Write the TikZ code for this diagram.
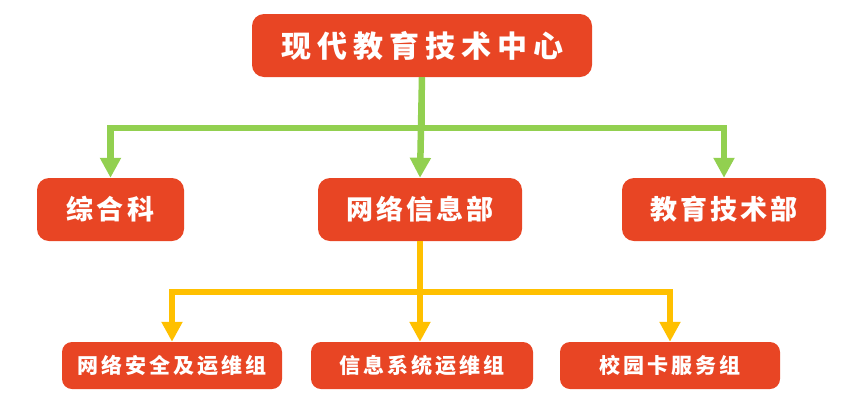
\documentclass[tikz,border=0pt]{standalone}
\usepackage{fontspec}
\usetikzlibrary{arrows.meta}
\newfontfamily\cjkA[LetterSpace=20]{Noto Sans CJK SC}
\newfontfamily\cjkB[LetterSpace=12]{Noto Sans CJK SC}
\newfontfamily\cjkC[LetterSpace=14]{Noto Sans CJK SC}
\definecolor{boxred}{HTML}{E84524}
\definecolor{lgreen}{HTML}{92D050}
\definecolor{lyellow}{HTML}{FFC000}
\begin{document}
\begin{tikzpicture}[x=1pt,y=-1pt,
  box/.style={fill=boxred,rounded corners=12pt,text=white,inner sep=0pt,align=center},
  lvA/.style={box,minimum width=340pt,minimum height=63pt,font=\cjkA\bfseries\fontsize{30}{30}\selectfont},
  lvB/.style={box,minimum width=204pt,minimum height=63pt,font=\cjkB\bfseries\fontsize{27}{27}\selectfont},
  lvC/.style={box,minimum width=220pt,minimum height=47pt,rounded corners=10pt,font=\cjkC\bfseries\fontsize{21}{21}\selectfont},
  garrow/.style={draw=lgreen,line width=6.5pt,-{Triangle[width=20pt,length=20pt]}},
  yarrow/.style={draw=lyellow,line width=6.5pt,-{Triangle[width=20pt,length=20pt]}}]
\useasboundingbox (0,0) rectangle (860,416);
\node[lvA] (top) at (422,45.5) {现代教育技术中心};
\node[lvB,minimum width=147pt] (zh) at (110.5,209.5) {综合科};
\node[lvB] (wl) at (420,209.5) {网络信息部};
\node[lvB] (jy) at (724,209.5) {教育技术部};
\node[lvC] (b1) at (172,365.5) {网络安全及运维组};
\node[lvC,minimum width=222pt] (b2) at (422,365.5) {信息系统运维组};
\node[lvC] (b3) at (670,365.5) {校园卡服务组};
\coordinate (gj) at (422,128);
\coordinate (yj) at (420,292);
\draw[garrow] (top.south) -- (gj) -| (zh.north);
\draw[garrow] (top.south) -- (gj) -| (jy.north);
\draw[garrow] (top.south) -- (wl.north);
\draw[yarrow] (wl.south) -- (yj) -| (b1.north);
\draw[yarrow] (wl.south) -- (yj) -| (b3.north);
\draw[yarrow] (wl.south) -- (wl.south |- b2.north);
\end{tikzpicture}
\end{document}
